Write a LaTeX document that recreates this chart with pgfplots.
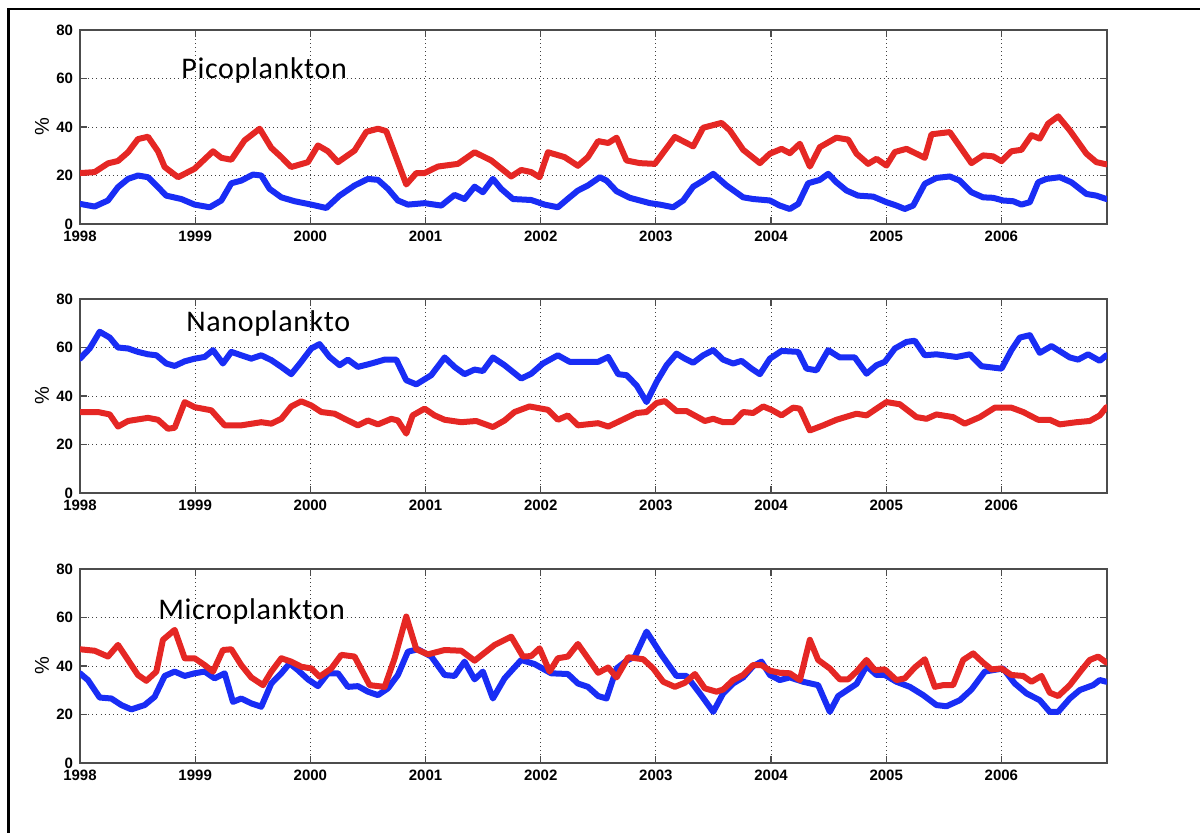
\documentclass[border=0pt]{standalone}
\usepackage{pgfplots}
\pgfplotsset{compat=1.18}
\usepackage{fontspec}
\setmainfont{Liberation Sans}
\newfontfamily\calib{Carlito}[LetterSpace=2.2]

\definecolor{pred}{RGB}{229,39,36}
\definecolor{pblue}{RGB}{25,45,245}

\pgfplotsset{
  panel/.style={
    scale only axis, width=513.5pt, height=97pt,
    anchor=north west,
    xmin=1998, xmax=2006.917, ymin=0, ymax=80,
    xtick={1998,1999,2000,2001,2002,2003,2004,2005,2006},
    ytick={0,20,40,60,80},
    grid=major,
    major grid style={black!75, line width=0.4pt, dash pattern=on 0.45pt off 1.6pt},
    tick align=inside, major tick length=3.5pt,
    tick style={black!70, line width=0.6pt},
    axis line style={black!70, line width=0.6pt},
    xticklabel style={/pgf/number format/1000 sep={}},
    /pgf/number format/assume math mode=true,
    ticklabel style={font=\bfseries\fontsize{7.5}{9}\selectfont},
    ylabel={\%},
    ylabel style={font=\bfseries\fontsize{7}{8}\selectfont},
    every axis y label/.style={at={(axis description cs:-0.037,0.5)},rotate=90,anchor=center},
  },
  pline/.style={line width=3pt, line join=round, line cap=round},
}

\begin{document}
\begin{tikzpicture}
\path[use as bounding box] (0,0) rectangle (600pt,-416pt);
\draw[line width=1.3pt] (4.2pt,-417pt) -- (4.2pt,-4.5pt) -- (601pt,-4.5pt);

% Picoplankton
\begin{axis}[panel, at={(40pt,-15pt)}]
\addplot[pline, pred] coordinates {
(1998.000,21) (1998.127,21.4) (1998.243,25) (1998.330,26) (1998.417,29.6) (1998.503,35)
(1998.590,36) (1998.677,30) (1998.735,23.5) (1998.851,19.3) (1998.995,22.8) (1999.155,30)
(1999.227,27.3) (1999.314,26.5) (1999.429,34.5) (1999.560,39.3) (1999.661,31.4) (1999.748,27.6)
(1999.834,23.5) (1999.979,25.5) (2000.066,32.4) (2000.153,30) (2000.240,25.5) (2000.384,30.3)
(2000.486,38) (2000.587,39.3) (2000.659,38.3) (2000.833,16.3) (2000.920,21) (2000.992,21)
(2001.108,23.7) (2001.281,24.8) (2001.426,29.6) (2001.571,26.2) (2001.744,19.6) (2001.831,22.3)
(2001.918,21.4) (2001.990,19.3) (2002.063,29.6) (2002.207,27.6) (2002.323,24) (2002.410,27.6)
(2002.499,34.2) (2002.586,33.4) (2002.659,35.6) (2002.745,26.2) (2002.861,25.1) (2002.991,24.8)
(2003.165,35.9) (2003.324,32) (2003.411,39.7) (2003.570,41.7) (2003.642,38.6) (2003.758,30.6)
(2003.903,25.1) (2003.990,29) (2004.091,31) (2004.163,29.2) (2004.250,33.1) (2004.337,23.7)
(2004.424,31.7) (2004.568,35.6) (2004.670,34.8) (2004.742,29) (2004.843,24.8) (2004.916,26.9)
(2005.002,24.1) (2005.075,29.7) (2005.176,31) (2005.335,27.3) (2005.393,37) (2005.552,37.9)
(2005.740,25.1) (2005.841,28.3) (2005.928,27.9) (2006.001,25.9) (2006.087,30) (2006.174,30.6)
(2006.261,36.6) (2006.333,35.2) (2006.406,41.4) (2006.493,44.4) (2006.594,38.6) (2006.738,29)
(2006.825,25.5) (2006.912,24.6)
};
\addplot[pline, pblue] coordinates {
(1998.000,8.3) (1998.127,7.2) (1998.243,9.7) (1998.330,15.2) (1998.417,18.6) (1998.503,20)
(1998.590,19.3) (1998.677,15.2) (1998.749,11.7) (1998.880,10.3) (1998.995,8) (1999.126,6.9)
(1999.227,9.7) (1999.314,16.8) (1999.400,17.9) (1999.502,20.4) (1999.574,20) (1999.646,14.5)
(1999.748,11) (1999.863,9.4) (2000.008,8) (2000.138,6.6) (2000.254,11.7) (2000.384,15.9)
(2000.500,18.6) (2000.587,18.2) (2000.674,14.5) (2000.760,9.7) (2000.847,8) (2000.992,8.6)
(2001.137,7.6) (2001.252,12) (2001.339,10.3) (2001.426,15.4) (2001.498,13.1) (2001.585,18.6)
(2001.657,14.5) (2001.759,10.3) (2001.918,9.9) (2002.034,8) (2002.149,6.9) (2002.251,11)
(2002.323,13.8) (2002.410,15.9) (2002.514,19.3) (2002.572,17.9) (2002.659,13.5) (2002.774,10.8)
(2002.948,8.6) (2003.035,8) (2003.150,6.9) (2003.237,9.7) (2003.324,15.4) (2003.411,17.9)
(2003.498,20.7) (2003.613,15.9) (2003.758,11) (2003.845,10.3) (2003.990,9.7) (2004.076,7.6)
(2004.163,6.2) (2004.236,8.3) (2004.322,16.8) (2004.424,18.2) (2004.496,20.7) (2004.568,17.2)
(2004.655,13.8) (2004.756,11.7) (2004.887,11.3) (2005.002,9) (2005.089,7.6) (2005.161,6.2)
(2005.234,7.6) (2005.335,16.6) (2005.436,19) (2005.552,19.6) (2005.639,17.9) (2005.740,13.1)
(2005.841,11) (2005.928,10.8) (2006.015,9.7) (2006.102,9.4) (2006.174,8) (2006.247,9)
(2006.319,17.2) (2006.391,18.6) (2006.507,19.3) (2006.608,17.2) (2006.738,12.4) (2006.825,11.7)
(2006.912,10.3)
};
\end{axis}

% Nanoplankton
\begin{axis}[panel, at={(40pt,-149.5pt)}]
\addplot[pline, pred] coordinates {
(1998.000,33.4) (1998.156,33.4) (1998.258,32.4) (1998.330,27.4) (1998.417,29.7) (1998.590,31)
(1998.677,30.2) (1998.764,26.5) (1998.822,26.9) (1998.909,37.5) (1998.995,35.4) (1999.140,34.1)
(1999.256,27.9) (1999.400,27.9) (1999.574,29.2) (1999.661,28.6) (1999.748,30.6) (1999.834,35.7)
(1999.921,37.8) (2000.008,36.1) (2000.095,33.4) (2000.211,32.7) (2000.297,30.6) (2000.413,27.9)
(2000.500,29.9) (2000.587,28.3) (2000.703,30.6) (2000.760,29.9) (2000.833,24.5) (2000.888,32)
(2000.992,34.8) (2001.079,32) (2001.166,30.2) (2001.310,29.2) (2001.440,29.7) (2001.585,27.2)
(2001.686,29.9) (2001.773,33.4) (2001.903,35.7) (2002.063,34.3) (2002.149,30.2) (2002.236,32)
(2002.323,27.9) (2002.499,28.8) (2002.586,27.4) (2002.688,29.7) (2002.832,33) (2002.919,33.4)
(2003.006,37.1) (2003.078,37.9) (2003.179,33.8) (2003.266,33.8) (2003.425,29.7) (2003.498,30.6)
(2003.584,29.2) (2003.671,29.2) (2003.758,33.4) (2003.845,33) (2003.932,35.7) (2004.004,34.3)
(2004.091,32) (2004.192,35.2) (2004.250,34.8) (2004.337,25.8) (2004.453,27.9) (2004.568,30.2)
(2004.742,32.7) (2004.829,32) (2004.916,34.8) (2005.002,37.5) (2005.118,36.6) (2005.263,31.3)
(2005.350,30.6) (2005.436,32.4) (2005.581,31.3) (2005.682,28.6) (2005.813,31.3) (2005.943,35.2)
(2006.087,35.2) (2006.189,33.4) (2006.319,30.2) (2006.420,30.2) (2006.507,28.3) (2006.652,29.2)
(2006.767,29.7) (2006.854,32) (2006.912,35.4)
};
\addplot[pline, pblue] coordinates {
(1998.000,55.4) (1998.084,59.6) (1998.171,66.5) (1998.258,64.1) (1998.330,60) (1998.417,59.6)
(1998.503,58.2) (1998.590,57.2) (1998.663,56.8) (1998.749,53.4) (1998.822,52.4) (1998.909,54.3)
(1998.995,55.4) (1999.082,56.1) (1999.155,58.9) (1999.241,53.4) (1999.314,58.2) (1999.400,56.8)
(1999.487,55.4) (1999.574,56.8) (1999.661,54.8) (1999.748,52) (1999.834,49) (1999.921,54.1)
(2000.008,59.6) (2000.080,61.4) (2000.167,56.1) (2000.254,52.7) (2000.326,55) (2000.413,52)
(2000.529,53.4) (2000.645,55) (2000.746,55) (2000.833,46.5) (2000.920,44.8) (2001.050,48.6)
(2001.166,55.9) (2001.252,52) (2001.339,49) (2001.426,50.9) (2001.498,50.3) (2001.585,55.9)
(2001.686,52.7) (2001.831,47.2) (2001.918,49.2) (2002.019,53.4) (2002.149,56.8) (2002.251,54.1)
(2002.427,54.1) (2002.499,54.1) (2002.586,56.1) (2002.673,49) (2002.745,48.6) (2002.832,44.4)
(2002.919,37.5) (2003.006,45.8) (2003.093,52.7) (2003.179,57.5) (2003.252,55.4) (2003.324,53.7)
(2003.411,56.8) (2003.498,58.9) (2003.584,55) (2003.671,53.4) (2003.744,54.5) (2003.830,51.3)
(2003.903,49) (2003.990,55.4) (2004.091,58.6) (2004.236,58.2) (2004.308,51.3) (2004.395,50.6)
(2004.496,58.9) (2004.597,55.9) (2004.727,55.9) (2004.829,49.2) (2004.916,52.7) (2004.988,54.1)
(2005.075,59.6) (2005.176,62.3) (2005.248,62.8) (2005.335,56.8) (2005.436,57.2) (2005.610,56.1)
(2005.726,57.2) (2005.827,52.3) (2006.001,51.3) (2006.087,58.9) (2006.160,64.1) (2006.247,65.1)
(2006.333,57.8) (2006.435,60.6) (2006.594,55.9) (2006.666,55) (2006.753,57.2) (2006.854,54.5)
(2006.912,56.8)
};
\end{axis}

% Microplankton
\begin{axis}[panel, at={(40pt,-284.5pt)}]
\addplot[pline, pblue] coordinates {
(1998.000,37) (1998.069,34.2) (1998.171,27) (1998.272,26.6) (1998.359,23.9) (1998.446,22.1)
(1998.561,23.9) (1998.648,27.3) (1998.735,35.9) (1998.822,37.7) (1998.909,35.9) (1998.995,37)
(1999.082,37.7) (1999.169,34.9) (1999.256,37) (1999.328,25.2) (1999.400,26.6) (1999.487,24.6)
(1999.574,23.2) (1999.661,32.8) (1999.748,37) (1999.820,41.1) (1999.892,38.3) (1999.979,34.5)
(2000.066,31.7) (2000.153,37) (2000.240,37) (2000.326,31.4) (2000.413,31.7) (2000.500,29.4)
(2000.587,28) (2000.674,30.8) (2000.760,36.3) (2000.847,45.9) (2000.934,46.9) (2001.050,43.9)
(2001.166,36.3) (2001.252,35.9) (2001.339,41.8) (2001.426,34.5) (2001.498,37.7) (2001.585,26.6)
(2001.686,34.9) (2001.831,42.5) (2001.947,40.8) (2002.091,37) (2002.236,36.7) (2002.323,32.8)
(2002.410,31.4) (2002.499,27.6) (2002.572,26.6) (2002.659,39) (2002.745,42.2) (2002.818,43.9)
(2002.919,54.2) (2003.049,44.6) (2003.179,35.9) (2003.266,35.9) (2003.382,28.7) (2003.498,21.1)
(2003.584,28.7) (2003.671,32.8) (2003.758,35.3) (2003.845,40) (2003.917,41.8) (2003.990,36.3)
(2004.076,34.2) (2004.163,35.3) (2004.279,33.5) (2004.409,32.1) (2004.510,21.1) (2004.583,27.6)
(2004.742,32.6) (2004.829,40) (2004.916,36.3) (2004.988,36.3) (2005.089,33.5) (2005.205,31.4)
(2005.321,28) (2005.436,23.9) (2005.523,23.4) (2005.639,25.9) (2005.740,30.3) (2005.856,37.7)
(2005.928,38.3) (2006.015,39) (2006.116,32.8) (2006.218,28.7) (2006.333,25.9) (2006.420,21.1)
(2006.493,21.1) (2006.594,26.6) (2006.681,30.1) (2006.796,32.1) (2006.854,34.2) (2006.912,33.5)
};
\addplot[pline, pred] coordinates {
(1998.000,46.9) (1998.127,46.3) (1998.243,43.9) (1998.330,48.7) (1998.417,42.5) (1998.503,36.3)
(1998.576,33.9) (1998.663,37.7) (1998.720,50.8) (1998.822,54.9) (1998.909,43.2) (1998.995,43.2)
(1999.082,40.4) (1999.155,37.7) (1999.241,46.6) (1999.314,46.9) (1999.400,40.4) (1999.487,35.3)
(1999.589,32.1) (1999.661,37.7) (1999.748,43.2) (1999.834,41.8) (1999.921,39.7) (2000.008,39)
(2000.080,35.6) (2000.182,39) (2000.269,44.6) (2000.384,43.9) (2000.515,32.1) (2000.645,31.4)
(2000.732,43.2) (2000.833,60.4) (2000.920,46.9) (2001.021,44.8) (2001.166,46.6) (2001.310,46.3)
(2001.426,42.2) (2001.600,48.7) (2001.744,52.1) (2001.846,43.9) (2001.918,44.1) (2001.990,47.3)
(2002.077,37.7) (2002.149,43.2) (2002.236,43.9) (2002.323,49.1) (2002.499,37.2) (2002.586,39.4)
(2002.659,35.3) (2002.760,43.6) (2002.890,42.8) (2002.977,39) (2003.064,33.5) (2003.165,31.4)
(2003.252,33.1) (2003.339,36.7) (2003.425,30.8) (2003.527,29.4) (2003.584,30.3) (2003.671,34.2)
(2003.758,36.3) (2003.845,40.4) (2003.917,40.4) (2003.990,38.1) (2004.076,37.2) (2004.163,37)
(2004.250,34.2) (2004.337,50.8) (2004.409,42.5) (2004.510,39) (2004.597,34.5) (2004.670,34.5)
(2004.742,37.7) (2004.829,42.5) (2004.901,38.3) (2004.988,38.6) (2005.089,34.2) (2005.161,34.9)
(2005.248,39.4) (2005.335,42.8) (2005.422,31.4) (2005.494,32.1) (2005.581,32.1) (2005.668,42.5)
(2005.755,45.2) (2005.841,41.4) (2005.914,38.6) (2006.001,39) (2006.087,36.3) (2006.189,35.9)
(2006.261,33.5) (2006.348,35.9) (2006.420,29) (2006.493,27.6) (2006.594,32.1) (2006.695,38.3)
(2006.767,42.5) (2006.840,43.9) (2006.912,41.4)
};
\end{axis}

\node[anchor=base west, font=\calib\fontsize{15}{17}\selectfont, inner sep=0pt] at (90.5pt,-39pt) {Picoplankton};
\node[anchor=base west, font=\calib\fontsize{15}{17}\selectfont, inner sep=0pt] at (93pt,-165.9pt) {Nanoplankto};
\node[anchor=base west, font=\calib\fontsize{15}{17}\selectfont, inner sep=0pt] at (79pt,-309.5pt) {Microplankton};
\end{tikzpicture}
\end{document}
